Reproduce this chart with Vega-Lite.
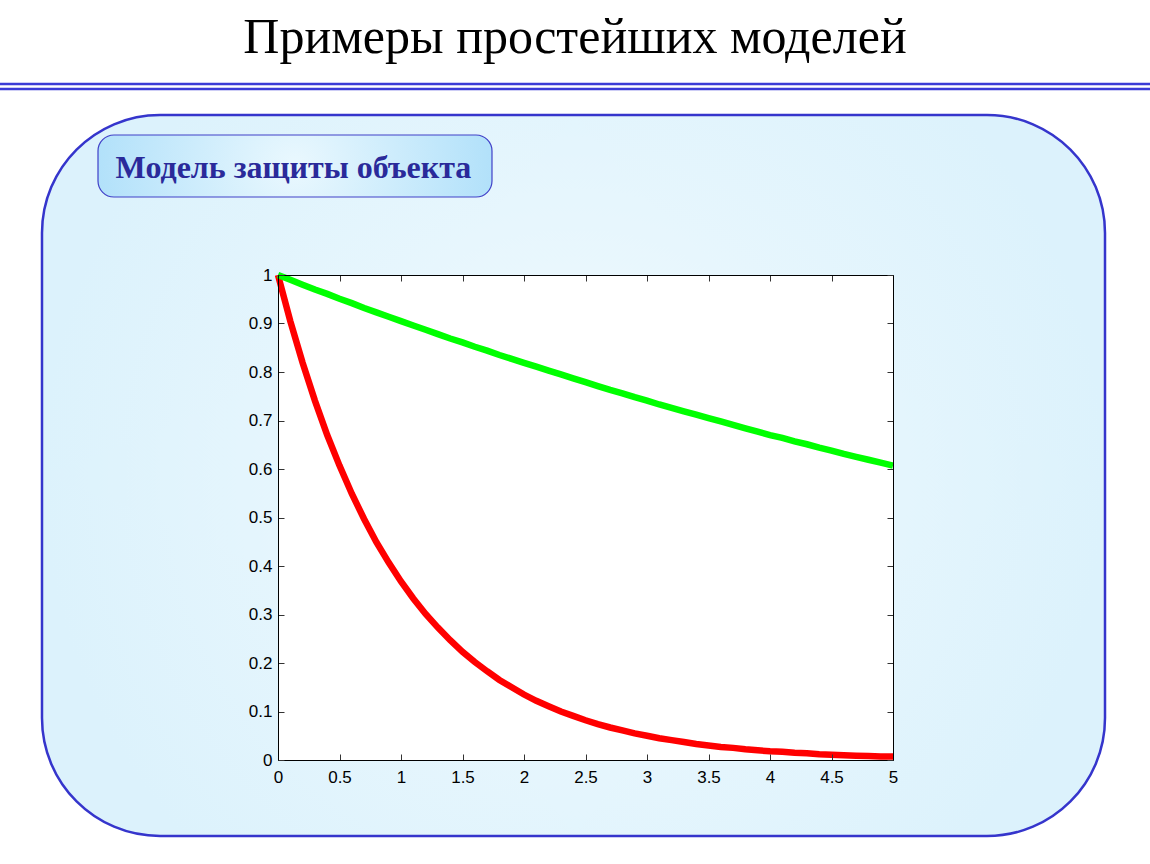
{
  "$schema": "https://vega.github.io/schema/vega-lite/v6.json",
  "width": 615,
  "height": 485,
  "autosize": {"type": "none"},
  "padding": {"left": 278, "top": 275, "right": 257, "bottom": 104},
  "background": "white",
  "config": {
    "view": {"stroke": null}
  },
  "data": {
    "values": [
      {"t": 0.0, "red": 1.0, "green": 1.0},
      {"t": 0.1, "red": 0.905, "green": 0.990},
      {"t": 0.2, "red": 0.819, "green": 0.980},
      {"t": 0.3, "red": 0.741, "green": 0.970},
      {"t": 0.4, "red": 0.670, "green": 0.961},
      {"t": 0.5, "red": 0.607, "green": 0.951},
      {"t": 0.6, "red": 0.549, "green": 0.942},
      {"t": 0.7, "red": 0.497, "green": 0.932},
      {"t": 0.8, "red": 0.449, "green": 0.923},
      {"t": 0.9, "red": 0.407, "green": 0.914},
      {"t": 1.0, "red": 0.368, "green": 0.905},
      {"t": 1.1, "red": 0.333, "green": 0.896},
      {"t": 1.2, "red": 0.301, "green": 0.887},
      {"t": 1.3, "red": 0.273, "green": 0.878},
      {"t": 1.4, "red": 0.247, "green": 0.869},
      {"t": 1.5, "red": 0.223, "green": 0.861},
      {"t": 1.6, "red": 0.202, "green": 0.852},
      {"t": 1.7, "red": 0.183, "green": 0.844},
      {"t": 1.8, "red": 0.165, "green": 0.835},
      {"t": 1.9, "red": 0.150, "green": 0.827},
      {"t": 2.0, "red": 0.135, "green": 0.819},
      {"t": 2.1, "red": 0.122, "green": 0.811},
      {"t": 2.2, "red": 0.111, "green": 0.803},
      {"t": 2.3, "red": 0.100, "green": 0.795},
      {"t": 2.4, "red": 0.091, "green": 0.787},
      {"t": 2.5, "red": 0.082, "green": 0.779},
      {"t": 2.6, "red": 0.074, "green": 0.771},
      {"t": 2.7, "red": 0.067, "green": 0.763},
      {"t": 2.8, "red": 0.061, "green": 0.756},
      {"t": 2.9, "red": 0.055, "green": 0.748},
      {"t": 3.0, "red": 0.050, "green": 0.741},
      {"t": 3.1, "red": 0.045, "green": 0.733},
      {"t": 3.2, "red": 0.041, "green": 0.726},
      {"t": 3.3, "red": 0.037, "green": 0.719},
      {"t": 3.4, "red": 0.033, "green": 0.712},
      {"t": 3.5, "red": 0.030, "green": 0.705},
      {"t": 3.6, "red": 0.027, "green": 0.698},
      {"t": 3.7, "red": 0.025, "green": 0.691},
      {"t": 3.8, "red": 0.022, "green": 0.684},
      {"t": 3.9, "red": 0.020, "green": 0.677},
      {"t": 4.0, "red": 0.018, "green": 0.670},
      {"t": 4.1, "red": 0.017, "green": 0.664},
      {"t": 4.2, "red": 0.015, "green": 0.657},
      {"t": 4.3, "red": 0.014, "green": 0.651},
      {"t": 4.4, "red": 0.012, "green": 0.644},
      {"t": 4.5, "red": 0.011, "green": 0.638},
      {"t": 4.6, "red": 0.010, "green": 0.631},
      {"t": 4.7, "red": 0.009, "green": 0.625},
      {"t": 4.8, "red": 0.008, "green": 0.619},
      {"t": 4.9, "red": 0.007, "green": 0.613},
      {"t": 5.0, "red": 0.007, "green": 0.607}
    ]
  },
  "resolve": {"axis": {"x": "independent", "y": "independent"}},
  "layer": [
    {
      "data": {"values": [{}]},
      "mark": {
        "type": "rect",
        "cornerRadius": 118,
        "stroke": "#3535cc",
        "strokeWidth": 2.5,
        "fill": {"gradient": "radial", "stops": [{"offset": 0, "color": "#f1fafe"}, {"offset": 1, "color": "#dcf2fc"}]}
      },
      "encoding": {
        "x": {"datum": -1.9187, "type": "quantitative", "scale": {"domain": [0, 5], "nice": false, "zero": false}, "axis": null},
        "x2": {"datum": 6.7236},
        "y": {"datum": 1.3299, "type": "quantitative", "scale": {"domain": [0, 1], "nice": false, "zero": false}, "axis": null},
        "y2": {"datum": -0.1567}
      }
    },
    {
      "data": {"values": [{"k": "a", "yy": 1.3938}, {"k": "b", "yy": 1.3835}]},
      "mark": {"type": "rule", "stroke": "#3b3bd6", "strokeWidth": 2.5},
      "encoding": {
        "x": {"datum": -2.2602, "type": "quantitative", "scale": {"domain": [0, 5], "nice": false, "zero": false}, "axis": null},
        "x2": {"datum": 7.0894},
        "y": {"field": "yy", "type": "quantitative", "scale": {"domain": [0, 1], "nice": false, "zero": false}, "axis": null}
      }
    },
    {
      "data": {"values": [{}]},
      "mark": {
        "type": "rect",
        "cornerRadius": 16,
        "stroke": "#4040c8",
        "strokeWidth": 1.2,
        "fill": {"gradient": "radial", "stops": [{"offset": 0, "color": "#eaf8fe"}, {"offset": 1, "color": "#b2e1fa"}]}
      },
      "encoding": {
        "x": {"datum": -1.4634, "type": "quantitative", "scale": {"domain": [0, 5], "nice": false, "zero": false}, "axis": null},
        "x2": {"datum": 1.7398},
        "y": {"datum": 1.2887, "type": "quantitative", "scale": {"domain": [0, 1], "nice": false, "zero": false}, "axis": null},
        "y2": {"datum": 1.1608}
      }
    },
    {
      "data": {"values": [{"label": "Модель защиты объекта"}]},
      "mark": {"type": "text", "font": "Liberation Serif", "fontWeight": "bold", "fontSize": 32, "color": "#2a2a9a", "align": "center", "baseline": "alphabetic"},
      "encoding": {
        "text": {"field": "label"},
        "x": {"datum": 0.126, "type": "quantitative", "scale": {"domain": [0, 5], "nice": false, "zero": false}, "axis": null},
        "y": {"datum": 1.2, "type": "quantitative", "scale": {"domain": [0, 1], "nice": false, "zero": false}, "axis": null}
      }
    },
    {
      "data": {"values": [{"label": "Примеры простейших моделей"}]},
      "mark": {"type": "text", "font": "Liberation Serif", "fontSize": 50, "color": "#000000", "align": "center", "baseline": "alphabetic"},
      "encoding": {
        "text": {"field": "label"},
        "x": {"datum": 2.4146, "type": "quantitative", "scale": {"domain": [0, 5], "nice": false, "zero": false}, "axis": null},
        "y": {"datum": 1.4577, "type": "quantitative", "scale": {"domain": [0, 1], "nice": false, "zero": false}, "axis": null}
      }
    },
    {
      "data": {"values": [{}]},
      "mark": {"type": "rect", "fill": "#ffffff"},
      "encoding": {
        "x": {"datum": 0, "type": "quantitative", "scale": {"domain": [0, 5], "nice": false, "zero": false}, "axis": null},
        "x2": {"datum": 5},
        "y": {"datum": 0, "type": "quantitative", "scale": {"domain": [0, 1], "nice": false, "zero": false}, "axis": null},
        "y2": {"datum": 1}
      }
    },
    {
      "mark": {"type": "line", "color": "#ff0000", "strokeWidth": 6.5},
      "encoding": {
        "x": {"field": "t", "type": "quantitative", "scale": {"domain": [0, 5], "nice": false, "zero": false},
              "axis": {"orient": "bottom", "zindex": 1, "title": null, "grid": false, "values": [0, 0.5, 1, 1.5, 2, 2.5, 3, 3.5, 4, 4.5, 5], "format": "~g",
                       "labelPadding": 15, "labelFont": "Liberation Sans", "labelFontSize": 17, "labelColor": "#000000", "labelFlush": false, "labelOverlap": false, "labelBound": false,
                       "tickSize": -6, "tickColor": "#333333", "tickWidth": 1, "domainColor": "#000000", "domainWidth": 1}},
        "y": {"field": "red", "type": "quantitative", "scale": {"domain": [0, 1], "nice": false, "zero": false},
              "axis": {"orient": "left", "zindex": 1, "title": null, "grid": false, "values": [0, 0.1, 0.2, 0.3, 0.4, 0.5, 0.6, 0.7, 0.8, 0.9, 1], "format": "~g",
                       "labelPadding": 12, "labelFont": "Liberation Sans", "labelFontSize": 17, "labelColor": "#000000", "labelFlush": false, "labelOverlap": false, "labelBound": false,
                       "tickSize": -6, "tickColor": "#333333", "tickWidth": 1, "domainColor": "#000000", "domainWidth": 1}}
      }
    },
    {
      "mark": {"type": "line", "color": "#00ff00", "strokeWidth": 6.5},
      "encoding": {
        "x": {"field": "t", "type": "quantitative", "scale": {"domain": [0, 5], "nice": false, "zero": false},
              "axis": {"orient": "top", "zindex": 1, "title": null, "grid": false, "values": [0, 0.5, 1, 1.5, 2, 2.5, 3, 3.5, 4, 4.5, 5], "labels": false,
                       "tickSize": -6, "tickColor": "#333333", "tickWidth": 1, "domainColor": "#000000", "domainWidth": 1}},
        "y": {"field": "green", "type": "quantitative", "scale": {"domain": [0, 1], "nice": false, "zero": false},
              "axis": {"orient": "right", "zindex": 1, "title": null, "grid": false, "values": [0, 0.1, 0.2, 0.3, 0.4, 0.5, 0.6, 0.7, 0.8, 0.9, 1], "labels": false,
                       "tickSize": -6, "tickColor": "#333333", "tickWidth": 1, "domainColor": "#000000", "domainWidth": 1}}
      }
    }
  ]
}
